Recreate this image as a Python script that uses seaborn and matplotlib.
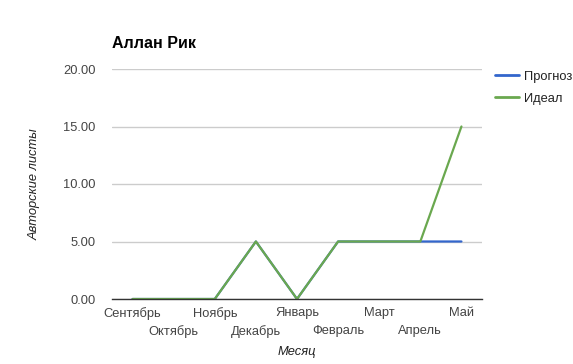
import matplotlib
matplotlib.use("Agg")
import matplotlib.pyplot as plt
import seaborn as sns
import pandas as pd
from matplotlib.lines import Line2D

months = ["Сентябрь", "Октябрь", "Ноябрь", "Декабрь", "Январь", "Февраль", "Март", "Апрель", "Май"]
prognoz = [0, 0, 0, 5, 0, 5, 5, 5, 5]
ideal = [0, 0, 0, 5, 0, 5, 5, 5, 15]
yticks = [0, 5, 10, 15, 20]

sns.set_theme(style="white")
plt.rcParams['font.family'] = ['Liberation Sans', 'DejaVu Sans']

df = pd.DataFrame({
    "pos": list(range(len(months))) * 2,
    "value": prognoz + ideal,
    "series": ["Прогноз"] * len(months) + ["Идеал"] * len(months),
})

fig = plt.figure(figsize=(5.73, 3.64), dpi=100)
ax = fig.add_axes([112/573, 1 - 299/364, 370/573, 230/364])

sns.lineplot(data=df, x="pos", y="value", hue="series",
             palette={"Прогноз": "#3366cc", "Идеал": "#6aa84f"},
             linewidth=1.6, ax=ax, legend=False)

ax.set_xlim(-0.5, len(months) - 0.5)
ax.set_ylim(0, 20)
ax.set_yticks(yticks)
ax.set_yticklabels([f"{v:.2f}" for v in yticks], fontsize=9.3, color="#444444")
ax.set_xticks(range(len(months)))
ax.set_xticklabels(months, fontsize=9.3, color="#444444")
ax.tick_params(axis="both", length=0)
ax.tick_params(axis="y", pad=12)
for i, tk in enumerate(ax.xaxis.get_major_ticks()):
    tk.set_pad(6 if i % 2 == 0 else 19)
ax.grid(axis="y", color="#cccccc", linewidth=1)
for s in ["top", "right", "left"]:
    ax.spines[s].set_visible(False)
ax.spines["bottom"].set_color("#333333")
ax.spines["bottom"].set_linewidth(1)
ax.set_axisbelow(True)

ax.set_xlabel("Месяц", fontsize=9.3, style="italic", color="#222222")
ax.xaxis.set_label_coords(0.5, -(352 - 299) / 230)
ax.xaxis.label.set_va("center")
ax.set_ylabel("Авторские листы", fontsize=9.3, style="italic", color="#222222")
ax.yaxis.set_label_coords(-(112 - 35) / 370, 0.5)
ax.yaxis.label.set_va("center")

fig.text(112/573, 1 - 44/364, "Аллан Рик", fontsize=11.5, fontweight="bold", ha="left", va="center", color="#000000")

handles = [Line2D([0], [0], color="#3366cc", lw=2), Line2D([0], [0], color="#6aa84f", lw=2)]
fig.legend(handles, ["Прогноз", "Идеал"], loc="upper left", bbox_to_anchor=(492/573, 1 - 68/364),
           frameon=False, fontsize=9.3, handlelength=1.9, handletextpad=0.35, labelspacing=0.78,
           labelcolor="#222222", borderpad=0.2, borderaxespad=0)

fig.savefig("out.png", dpi=100)
